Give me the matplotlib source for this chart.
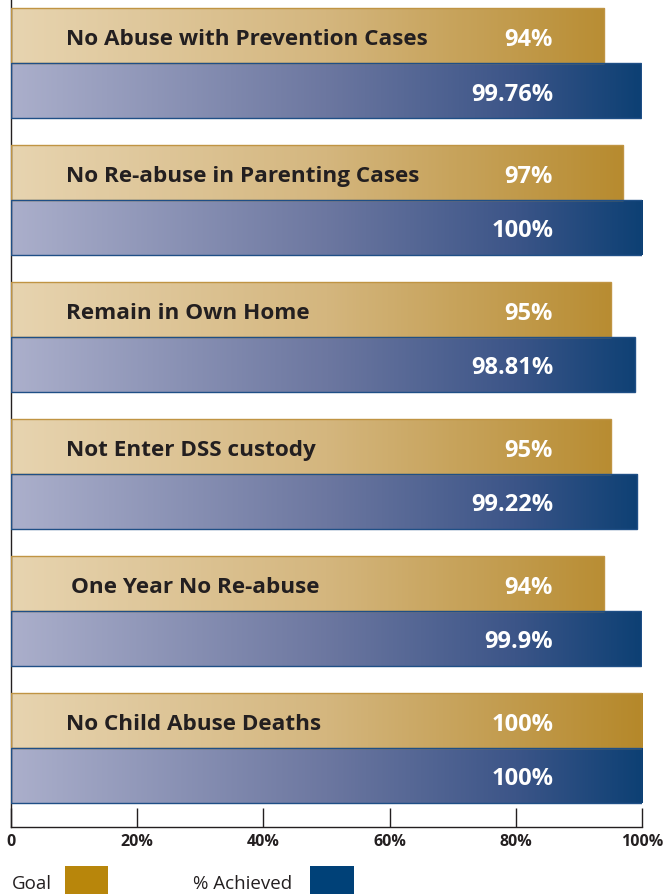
import matplotlib
matplotlib.use('Agg')
import matplotlib.pyplot as plt
from matplotlib.colors import LinearSegmentedColormap
from matplotlib.patches import Rectangle
import numpy as np

categories = ['No Abuse with Prevention Cases', 'No Re-abuse in Parenting Cases',
              'Remain in Own Home', 'Not Enter DSS custody',
              'One Year No Re-abuse', 'No Child Abuse Deaths']
goal = [94, 97, 95, 95, 94, 100]
achieved = [99.76, 100, 98.81, 99.22, 99.9, 100]
goal_labels = ['94%', '97%', '95%', '95%', '94%', '100%']
achieved_labels = ['99.76%', '100%', '98.81%', '99.22%', '99.9%', '100%']
ticks = [0, 20, 40, 60, 80, 100]
tick_labels = ['0', '20%', '40%', '60%', '80%', '100%']

plt.rcParams['font.family'] = ['Open Sans', 'DejaVu Sans']

goal_cmap = LinearSegmentedColormap.from_list(
    'goal', [(0, '#e7d4b0'), (0.5, '#d4b67e'), (1, '#b5882a')])
ach_cmap = LinearSegmentedColormap.from_list(
    'ach', [(0, '#abafcb'), (0.5, '#6c77a0'), (0.8, '#3c5588'), (1, '#0d4074')])

fig = plt.figure(figsize=(6.64, 8.94), dpi=100)
ax = fig.add_axes([0.0166, 0.075, 0.9504, 0.925])
ax.set_xlim(0, 100)
ax.set_ylim(5.577, -0.46)

h = 0.4
dy = 0.03  # nudge text a little down, it sits low in the bars


def grad_bar(y0, y1, val, cmap, edge):
    grad = np.linspace(0, val / 100, 256).reshape(1, -1)
    im = ax.imshow(grad, cmap=cmap, vmin=0, vmax=1, aspect='auto',
                   extent=(0, val, y1, y0), zorder=2, interpolation='bicubic')
    rect = Rectangle((0, y0), val, y1 - y0, facecolor='none',
                     edgecolor=edge, lw=1.0, zorder=3)
    ax.add_patch(rect)
    im.set_clip_path(rect)


for i, cat in enumerate(categories):
    grad_bar(i - h, i, goal[i], goal_cmap, '#c09443')
    grad_bar(i, i + h, achieved[i], ach_cmap, '#1f4f86')
    xoff = 9.5 if cat.startswith('One') else 8.7
    ax.text(xoff, i - h / 2 + dy, cat, ha='left', va='center', fontsize=16.2,
            fontweight='bold', color='#231f20', zorder=4)
    ax.text(85.9, i - h / 2 + dy, goal_labels[i], ha='right', va='center',
            fontsize=17, fontweight='bold', color='white', zorder=4)
    ax.text(85.9, i + h / 2 + dy, achieved_labels[i], ha='right', va='center',
            fontsize=17, fontweight='bold', color='white', zorder=4)

for s in ['top', 'right']:
    ax.spines[s].set_visible(False)
for s in ['left', 'bottom']:
    ax.spines[s].set_color('#231f20')
    ax.spines[s].set_linewidth(1.0)
ax.set_yticks([])
ax.set_xticks(ticks)
ax.set_xticklabels(tick_labels, fontsize=11.5, fontweight='bold', color='#231f20')
ax.tick_params(axis='x', direction='in', length=14, width=1.0, pad=5, colors='#231f20')

# legend
fig.text(12 / 664, 1 - 884 / 894, 'Goal', ha='left', va='center', fontsize=13.5, color='#231f20')
fig.patches.append(Rectangle((65 / 664, 0), 43 / 664, 28 / 894, transform=fig.transFigure,
                             facecolor='#b8860b', edgecolor='none'))
fig.text(193 / 664, 1 - 884 / 894, '% Achieved', ha='left', va='center', fontsize=13.5, color='#231f20')
fig.patches.append(Rectangle((310 / 664, 0), 44 / 664, 28 / 894, transform=fig.transFigure,
                             facecolor='#004178', edgecolor='none'))

fig.savefig('out.png', dpi=100)
